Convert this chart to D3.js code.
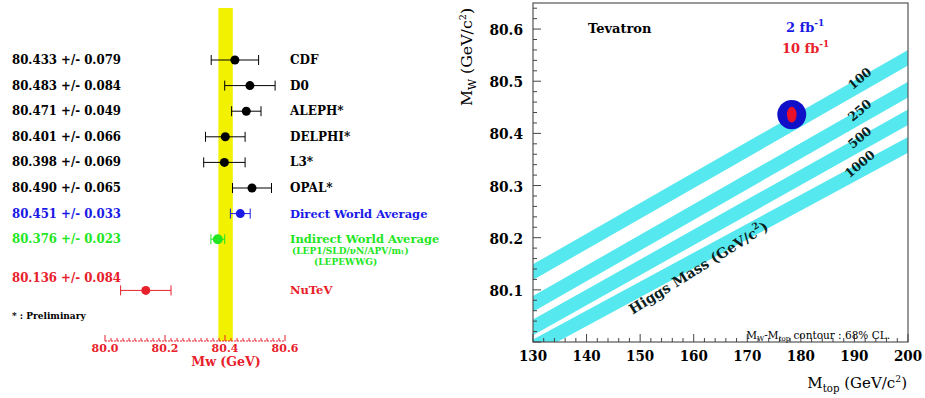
<!DOCTYPE html>
<html><head><meta charset="utf-8">
<script src="https://cdn.jsdelivr.net/npm/d3@7"></script>
<style>html,body{margin:0;padding:0;background:#fff;}svg{display:block;}</style>
</head><body>
<svg id="c" width="925" height="398"></svg>
<script>
// ---------- Left panel data ----------
const expNames = ["CDF","D0","ALEPH*","DELPHI*","L3*","OPAL*","Direct World Average","Indirect World Average","NuTeV"];
const mwValues = [80.433,80.483,80.471,80.401,80.398,80.490,80.451,80.376,80.136];
const mwErrors = [0.079,0.084,0.049,0.066,0.069,0.065,0.033,0.023,0.084];
const rowIndex = [0,1,2,3,4,5,6,7,9];
const valueRowIndex = [0,1,2,3,4,5,6,7,8.5];
const groupColor = ["black","black","black","black","black","black","blue","green","red"];
const indirectSubLines = ["(LEP1/SLD/\u03BDN/APV/m\u209C)","(LEPEWWG)"];
const bandCenter = 80.402, bandHalf = 0.024;
const leftTicks = [80.0,80.2,80.4,80.6];

// ---------- Right panel data ----------
const higgsMasses = ["100","250","500","1000"];
const bandMt = [130,200];
const bandMwAt130 = [80.134,80.073,80.028,79.990];
const bandMwAt200 = [80.545,80.484,80.431,80.378];
const bandHalfWidth = 0.015;
const contourMt = 178.3, contourMw = 80.436;
const contour2fb = {dmt:2.7, dmw:0.028};
const contour10fb = {dmt:0.9, dmw:0.015};
const mtTicks = [130,140,150,160,170,180,190,200];
const mwTicks = [80.1,80.2,80.3,80.4,80.5,80.6];

const colorMap = {black:"#000", blue:"#1a1ae6", green:"#22e622", red:"#e8202a"};
const svg = d3.select("#c");
function txt(g, x, y, s, o={}) {
  const c = o.fill || "#000";
  const t = g.append("text")
    .attr("transform", `translate(${x},${y}) rotate(${o.rot||0}) scale(${o.sx||1},1)`)
    .attr("font-family", "DejaVu Serif, serif")
    .attr("font-size", o.size || 12)
    .attr("font-weight", o.weight || "bold")
    .attr("fill", c)
    .attr("text-anchor", o.anchor || "start");
  if (typeof s === "string") t.text(s); else s(t);
  return t;
}

// ================= LEFT PANEL =================
const xl = d3.scaleLinear().domain([80.0,80.6]).range([105,285]);
const yl = d3.scaleLinear().domain([0,1]).range([60,85.6]);
const L = svg.append("g");

L.append("rect").attr("x", xl(bandCenter-bandHalf)).attr("width", xl(bandCenter+bandHalf)-xl(bandCenter-bandHalf))
  .attr("y", 8).attr("height", 333).attr("fill", "#f2f200");

const f3 = d3.format(".3f");
expNames.forEach((n,i)=>{
  const c = colorMap[groupColor[i]];
  const yy = yl(rowIndex[i]);
  const x0 = xl(mwValues[i]-mwErrors[i]), x1 = xl(mwValues[i]+mwErrors[i]);
  L.append("line").attr("x1",x0).attr("x2",x1).attr("y1",yy).attr("y2",yy).attr("stroke",c).attr("stroke-width",1);
  [x0,x1].forEach(xx=>L.append("line").attr("x1",xx).attr("x2",xx).attr("y1",yy-5).attr("y2",yy+5).attr("stroke",c).attr("stroke-width",1));
  L.append("circle").attr("cx", xl(mwValues[i])).attr("cy", yy).attr("r", i===7?5:4.5).attr("fill", c);
  txt(L, 12, yl(valueRowIndex[i])+4, `${f3(mwValues[i])} +/- ${f3(mwErrors[i])}`, {size:12, fill:c, sx:0.98});
  const small = i>=6;
  txt(L, 290, yy+4, n, {size: small?11.5:12, fill:c, sx:1.0});
});
txt(L, 292, yl(7)+15, indirectSubLines[0], {size:9.5, fill:colorMap.green, sx:0.95});
txt(L, 314, yl(7)+26, indirectSubLines[1], {size:9.5, fill:colorMap.green, sx:0.95});
txt(L, 12, yl(10)+3, "* : Preliminary", {size:9});

const axY = 341;
L.append("line").attr("x1",xl(80.0)).attr("x2",xl(80.6)).attr("y1",axY).attr("y2",axY).attr("stroke","#e8202a").attr("stroke-width",1).attr("stroke-dasharray","2,1");
xl.ticks(30).forEach(v=>{
  const major = leftTicks.some(t=>Math.abs(t-v)<1e-6);
  L.append("line").attr("x1",xl(v)).attr("x2",xl(v)).attr("y1",axY).attr("y2",axY-(major?6:3)).attr("stroke","#e8202a").attr("stroke-width",1);
});
leftTicks.forEach(v=>txt(L, xl(v), 352, d3.format(".1f")(v), {size:11, fill:"#e8202a", anchor:"middle"}));
txt(L, 226, 366, "Mw (GeV)", {size:12, fill:"#e8202a", anchor:"middle", sx:1.05});

// ================= RIGHT PANEL =================
const X0=533, X1=908, Y0=3, Y1=342;
const xr = d3.scaleLinear().domain([130,200]).range([X0,X1]);
const yr = d3.scaleLinear().domain([80.0,80.65]).range([Y1,Y0]);
const R = svg.append("g");
R.append("clipPath").attr("id","frameclip").append("rect").attr("x",X0).attr("y",Y0).attr("width",X1-X0).attr("height",Y1-Y0);

const bands = R.append("g").attr("clip-path","url(#frameclip)");
const area = d3.area().x(d=>xr(d.mt)).y0(d=>yr(d.mw-bandHalfWidth)).y1(d=>yr(d.mw+bandHalfWidth));
higgsMasses.forEach((h,i)=>{
  const pts = bandMt.map((m,j)=>({mt:m, mw: j===0?bandMwAt130[i]:bandMwAt200[i]}));
  bands.append("path").attr("d", area(pts)).attr("fill","#55e8ee");
});

R.append("rect").attr("x",X0).attr("y",Y0).attr("width",X1-X0).attr("height",Y1-Y0).attr("fill","none").attr("stroke","#555").attr("stroke-width",1.2);

d3.range(130,200.001,2).forEach(v=>{
  const major = Math.abs(v%10)<1e-6;
  R.append("line").attr("x1",xr(v)).attr("x2",xr(v)).attr("y1",Y1).attr("y2",Y1-(major?8:4)).attr("stroke","#444");
});
d3.range(80.0,80.65,0.02).forEach(v=>{
  const major = mwTicks.concat([80.0]).some(t=>Math.abs(t-v)<1e-6);
  R.append("line").attr("x1",X0).attr("x2",X0+(major?8:4)).attr("y1",yr(v)).attr("y2",yr(v)).attr("stroke","#444");
});
mtTicks.forEach(v=>txt(R, xr(v), 361, String(v), {size:15, anchor:"middle", sx:0.9}));
mwTicks.forEach(v=>txt(R, 523, yr(v)+6, d3.format(".1f")(v), {size:15, anchor:"end", sx:0.92}));

txt(R, 907, 388, t=>{
  t.append("tspan").text("M");
  t.append("tspan").attr("font-size",10.5).attr("dy",4).text("top");
  t.append("tspan").attr("dy",-4).text(" (GeV/c");
  t.append("tspan").attr("font-size",9.5).attr("dy",-6).text("2");
  t.append("tspan").attr("dy",6).text(")");
}, {size:15.5, weight:"normal", anchor:"end", sx:0.97});
txt(R, 472, 57, t=>{
  t.append("tspan").text("M");
  t.append("tspan").attr("font-size",10.5).attr("dy",4).text("W");
  t.append("tspan").attr("dy",-4).text(" (GeV/c");
  t.append("tspan").attr("font-size",9.5).attr("dy",-6).text("2");
  t.append("tspan").attr("dy",6).text(")");
}, {size:15.5, weight:"normal", anchor:"middle", rot:-90, sx:1.02});

txt(R, 588, 33, "Tevatron", {size:13});
txt(R, 786, 32, t=>{
  t.append("tspan").text("2 fb");
  t.append("tspan").attr("font-size",9).attr("dy",-6).text("-1");
}, {size:13, fill:"#1a1ae6"});
txt(R, 782, 53, t=>{
  t.append("tspan").text("10 fb");
  t.append("tspan").attr("font-size",9).attr("dy",-6).text("-1");
}, {size:13, fill:"#e8202a"});

R.append("ellipse").attr("cx",xr(contourMt)).attr("cy",yr(contourMw))
  .attr("rx", xr(contourMt+contour2fb.dmt)-xr(contourMt)).attr("ry", yr(contourMw)-yr(contourMw+contour2fb.dmw)).attr("fill","#1010c8");
R.append("ellipse").attr("cx",xr(contourMt)).attr("cy",yr(contourMw))
  .attr("rx", xr(contourMt+contour10fb.dmt)-xr(contourMt)).attr("ry", yr(contourMw)-yr(contourMw+contour10fb.dmw)).attr("fill","#e8102a");

higgsMasses.forEach((h,i)=>{
  const m = 191.5;
  const mw = bandMwAt130[i] + (bandMwAt200[i]-bandMwAt130[i])*(m-130)/70;
  txt(R, xr(m), yr(mw)-2, h, {size:12.5, anchor:"middle", rot:-40, fill:"#0a1e1e"});
});
txt(R, 701, 272, t=>{
  t.append("tspan").text("Higgs Mass (GeV/c");
  t.append("tspan").attr("font-size",9).attr("dy",-7).text("2");
  t.append("tspan").attr("dy",7).text(")");
}, {size:14, anchor:"middle", rot:-32, fill:"#0a1e1e"});

txt(R, 890, 339, t=>{
  t.append("tspan").text("M");
  t.append("tspan").attr("font-size",7).attr("dy",2).text("W");
  t.append("tspan").attr("dy",-2).text("-M");
  t.append("tspan").attr("font-size",7).attr("dy",2).text("top");
  t.append("tspan").attr("dy",-2).text(" contour : 68% CL.");
}, {size:10.5, weight:"normal", anchor:"end"});
</script>
</body></html>
